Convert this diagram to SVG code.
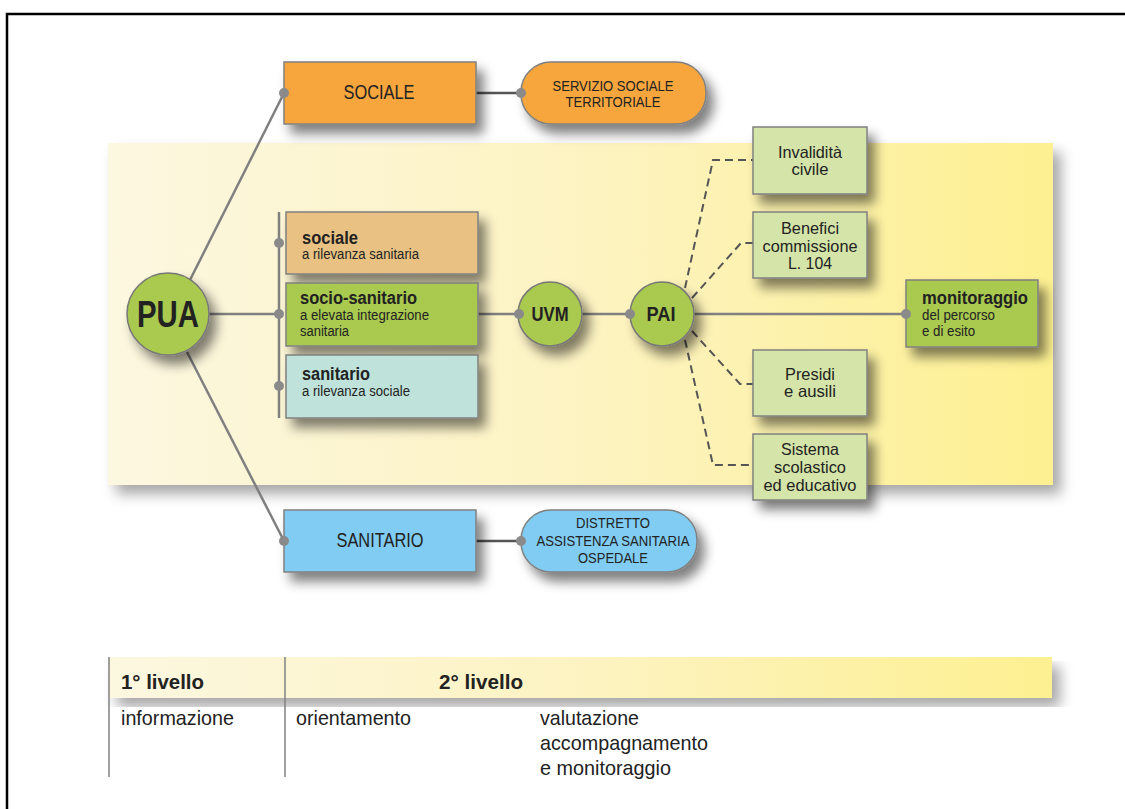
<svg xmlns="http://www.w3.org/2000/svg" width="1125" height="809" viewBox="0 0 1125 809">
<defs>
<linearGradient id="band" x1="0" y1="0" x2="1" y2="0">
<stop offset="0" stop-color="#fcf7e0"/>
<stop offset="0.5" stop-color="#fdf3c2"/>
<stop offset="1" stop-color="#fdf091"/>
</linearGradient>
<filter id="sh" x="-20%" y="-20%" width="150%" height="170%">
<feGaussianBlur in="SourceAlpha" stdDeviation="6"/>
<feOffset dx="7" dy="9" result="b"/>
<feComponentTransfer><feFuncA type="linear" slope="0.5"/></feComponentTransfer>
<feMerge><feMergeNode/><feMergeNode in="SourceGraphic"/></feMerge>
</filter>
<filter id="shb" x="-5%" y="-10%" width="115%" height="130%">
<feGaussianBlur in="SourceAlpha" stdDeviation="7"/>
<feOffset dx="8" dy="9"/>
<feComponentTransfer><feFuncA type="linear" slope="0.35"/></feComponentTransfer>
<feMerge><feMergeNode/><feMergeNode in="SourceGraphic"/></feMerge>
</filter>
<style>
text{font-family:"Liberation Sans",Arial,sans-serif;fill:#222}
.box{stroke:#808080;stroke-width:1.5}
.ln{stroke:#808080;stroke-width:2.5;fill:none}
.dk{stroke:#555;stroke-width:2.5;fill:none}
.ds{stroke:#555;stroke-width:2;fill:none;stroke-dasharray:8,5}
.dot{fill:#8a8a8a}
.c{text-anchor:middle}
.b{font-weight:bold}
.r{font-size:16.5px}
</style>
</defs>
<rect width="1125" height="809" fill="#fff"/>
<path d="M7,809 V14 H1125" fill="none" stroke="#000" stroke-width="2.5"/>

<rect x="108" y="143" width="945" height="342" fill="url(#band)" filter="url(#shb)"/>
<rect x="109" y="657" width="943" height="41" fill="url(#band)" filter="url(#shb)"/>

<g id="connectors">
<line class="ln" x1="190" y1="280" x2="284" y2="93"/>
<line class="ln" x1="187" y1="352" x2="284" y2="541"/>
<line class="ln" x1="209" y1="314" x2="279" y2="314"/>
<line class="ln" x1="279" y1="212" x2="279" y2="418"/>
<line class="dk" x1="476" y1="93" x2="521" y2="93"/>
<line class="dk" x1="476" y1="541" x2="521" y2="541"/>
<line class="ln" x1="478" y1="314" x2="519" y2="314"/>
<line class="ln" x1="582" y1="314" x2="630" y2="314"/>
<line class="ln" x1="694" y1="314" x2="906" y2="314"/>
<polyline class="ds" points="685,288 713,160 753,160"/>
<polyline class="ds" points="692,298 741,243 753,243"/>
<polyline class="ds" points="692,331 740,384 753,384"/>
<polyline class="ds" points="685,340 713,465 753,465"/>
<line stroke="#808080" stroke-width="1.5" x1="109" y1="657" x2="109" y2="777"/>
<line stroke="#808080" stroke-width="1.5" x1="285" y1="657" x2="285" y2="777"/>
</g>

<g id="sociale-top">
<rect class="box" x="284" y="62" width="192" height="62" fill="#f6a63e" filter="url(#sh)"/>
<text class="c" x="379" y="99" font-size="20" textLength="71" lengthAdjust="spacingAndGlyphs">SOCIALE</text>
</g>
<g id="servizio">
<rect class="box" x="521" y="62" width="185" height="62" rx="30" fill="#f6a63e" filter="url(#sh)"/>
<text class="c" x="613" y="91" font-size="15" textLength="121" lengthAdjust="spacingAndGlyphs">SERVIZIO SOCIALE</text>
<text class="c" x="613" y="107" font-size="15" textLength="95" lengthAdjust="spacingAndGlyphs">TERRITORIALE</text>
</g>
<g id="pua">
<circle cx="168" cy="314" r="41" fill="#a9c94f" stroke="#777" stroke-width="1.5" filter="url(#sh)"/>
<text class="c b" x="168" y="327" font-size="36" textLength="62" lengthAdjust="spacingAndGlyphs">PUA</text>
</g>
<g id="sociale">
<rect class="box" x="286" y="212" width="192" height="62" fill="#e9c283" filter="url(#sh)"/>
<text class="b" x="302" y="244" font-size="18" textLength="56" lengthAdjust="spacingAndGlyphs">sociale</text>
<text x="302" y="259" font-size="14" textLength="117" lengthAdjust="spacingAndGlyphs">a rilevanza sanitaria</text>
</g>
<g id="socio-sanitario">
<rect class="box" x="286" y="283" width="192" height="63" fill="#a9c94f" filter="url(#sh)"/>
<text class="b" x="300" y="304" font-size="18" textLength="117" lengthAdjust="spacingAndGlyphs">socio-sanitario</text>
<text x="300" y="320" font-size="14" textLength="129" lengthAdjust="spacingAndGlyphs">a elevata integrazione</text>
<text x="300" y="336" font-size="14" textLength="49" lengthAdjust="spacingAndGlyphs">sanitaria</text>
</g>
<g id="sanitario">
<rect class="box" x="286" y="355" width="192" height="63" fill="#bfe3da" filter="url(#sh)"/>
<text class="b" x="302" y="380" font-size="18" textLength="68" lengthAdjust="spacingAndGlyphs">sanitario</text>
<text x="302" y="396" font-size="14" textLength="108" lengthAdjust="spacingAndGlyphs">a rilevanza sociale</text>
</g>
<g id="uvm">
<circle cx="550" cy="314" r="32" fill="#a9c94f" stroke="#777" stroke-width="1.5" filter="url(#sh)"/>
<text class="c b" x="550" y="321" font-size="20" textLength="37" lengthAdjust="spacingAndGlyphs">UVM</text>
</g>
<g id="pai">
<circle cx="662" cy="314" r="32" fill="#a9c94f" stroke="#777" stroke-width="1.5" filter="url(#sh)"/>
<text class="c b" x="661" y="321" font-size="20" textLength="29" lengthAdjust="spacingAndGlyphs">PAI</text>
</g>
<g id="invalidita">
<rect class="box" x="753" y="127" width="114" height="67" fill="#d5e5a9" filter="url(#sh)"/>
<text class="c r" x="810" y="158" textLength="64" lengthAdjust="spacingAndGlyphs">Invalidità</text>
<text class="c r" x="810" y="175" textLength="37" lengthAdjust="spacingAndGlyphs">civile</text>
</g>
<g id="benefici">
<rect class="box" x="753" y="212" width="114" height="66" fill="#d5e5a9" filter="url(#sh)"/>
<text class="c r" x="810" y="234" textLength="58" lengthAdjust="spacingAndGlyphs">Benefici</text>
<text class="c r" x="810" y="252" textLength="95" lengthAdjust="spacingAndGlyphs">commissione</text>
<text class="c r" x="810" y="269" textLength="44" lengthAdjust="spacingAndGlyphs">L. 104</text>
</g>
<g id="presidi">
<rect class="box" x="753" y="350" width="114" height="66" fill="#d5e5a9" filter="url(#sh)"/>
<text class="c r" x="810" y="380" textLength="50" lengthAdjust="spacingAndGlyphs">Presidi</text>
<text class="c r" x="810" y="397" textLength="52" lengthAdjust="spacingAndGlyphs">e ausili</text>
</g>
<g id="sistema">
<rect class="box" x="753" y="434" width="114" height="66" fill="#d5e5a9" filter="url(#sh)"/>
<text class="c r" x="810" y="455" textLength="58" lengthAdjust="spacingAndGlyphs">Sistema</text>
<text class="c r" x="810" y="473" textLength="72" lengthAdjust="spacingAndGlyphs">scolastico</text>
<text class="c r" x="810" y="491" textLength="93" lengthAdjust="spacingAndGlyphs">ed educativo</text>
</g>
<g id="monitoraggio">
<rect class="box" x="906" y="280" width="132" height="67" fill="#a9c94f" filter="url(#sh)"/>
<text class="b" x="922" y="304" font-size="18" textLength="106" lengthAdjust="spacingAndGlyphs">monitoraggio</text>
<text x="922" y="320" font-size="14" textLength="73" lengthAdjust="spacingAndGlyphs">del percorso</text>
<text x="922" y="336" font-size="14" textLength="53" lengthAdjust="spacingAndGlyphs">e di esito</text>
</g>
<g id="sanitario-bottom">
<rect class="box" x="284" y="510" width="192" height="62" fill="#80ccf2" filter="url(#sh)"/>
<text class="c" x="380" y="547" font-size="20" textLength="87" lengthAdjust="spacingAndGlyphs">SANITARIO</text>
</g>
<g id="distretto">
<rect class="box" x="521" y="510" width="176" height="62" rx="30" fill="#80ccf2" filter="url(#sh)"/>
<text class="c" x="613" y="528" font-size="15" textLength="74" lengthAdjust="spacingAndGlyphs">DISTRETTO</text>
<text class="c" x="613" y="546" font-size="15" textLength="153" lengthAdjust="spacingAndGlyphs">ASSISTENZA SANITARIA</text>
<text class="c" x="613" y="563" font-size="15" textLength="70" lengthAdjust="spacingAndGlyphs">OSPEDALE</text>
</g>

<g id="dots">
<circle class="dot" cx="284" cy="93" r="5"/>
<circle class="dot" cx="521" cy="93" r="5"/>
<circle class="dot" cx="279" cy="243" r="5"/>
<circle class="dot" cx="279" cy="314" r="5"/>
<circle class="dot" cx="279" cy="386" r="5"/>
<circle class="dot" cx="519" cy="314" r="5"/>
<circle class="dot" cx="630" cy="314" r="5"/>
<circle class="dot" cx="906" cy="314" r="5"/>
<circle class="dot" cx="284" cy="541" r="5"/>
<circle class="dot" cx="521" cy="541" r="5"/>
</g>

<g id="legend">
<text class="b" x="121" y="689" font-size="21" textLength="83" lengthAdjust="spacingAndGlyphs">1° livello</text>
<text class="b" x="439" y="689" font-size="21" textLength="84" lengthAdjust="spacingAndGlyphs">2° livello</text>
<text x="121" y="725" font-size="21" textLength="113" lengthAdjust="spacingAndGlyphs">informazione</text>
<text x="296" y="725" font-size="21" textLength="115" lengthAdjust="spacingAndGlyphs">orientamento</text>
<text x="540" y="725" font-size="21" textLength="99" lengthAdjust="spacingAndGlyphs">valutazione</text>
<text x="540" y="750" font-size="21" textLength="168" lengthAdjust="spacingAndGlyphs">accompagnamento</text>
<text x="540" y="775" font-size="21" textLength="131" lengthAdjust="spacingAndGlyphs">e monitoraggio</text>
</g>
</svg>
